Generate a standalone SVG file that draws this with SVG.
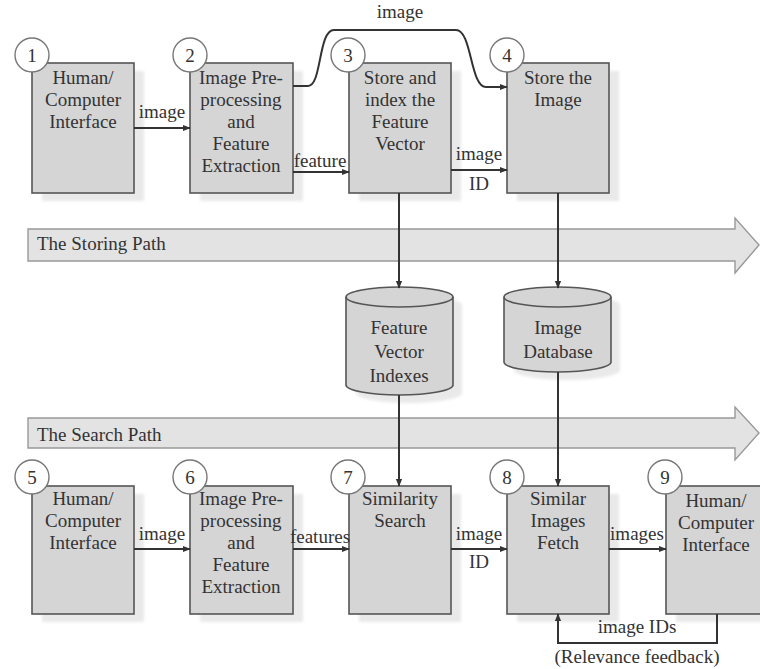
<svg xmlns="http://www.w3.org/2000/svg" width="760" height="669" viewBox="0 0 760 669" font-family="'Liberation Serif', 'Times New Roman', Times, 'DejaVu Serif', serif">
<style>
.box{fill:#d5d5d5;stroke:#555;stroke-width:1.6}
.sh{fill:#e9e9e9;filter:url(#blur)}
.num{fill:#fff;stroke:#777;stroke-width:1.4}
text{font-family:'Liberation Serif','Times New Roman',Times,'DejaVu Serif',serif;font-size:19px;fill:#333}
.t{text-anchor:middle}
.c{fill:none;stroke:#333;stroke-width:2}
.band{fill:#e3e3e3;stroke:#999;stroke-width:1.4}
</style>
<defs>
<filter id="blur" x="-10%" y="-10%" width="120%" height="120%"><feGaussianBlur stdDeviation="1.5"/></filter>
<marker id="ah" viewBox="0 0 10 10" refX="9" refY="5" markerWidth="4" markerHeight="4" orient="auto-start-reverse"><path d="M0,1 L10,5 L0,9 Z" fill="#333"/></marker>
</defs>
<rect width="760" height="669" fill="#fff"/>

<g id="storing-path">
<path class="band" d="M28,229 H735 V218 L759,245 L735,273 V261 H28 Z"/>
<text x="37" y="250">The Storing Path</text>
</g>
<g id="search-path">
<path class="band" d="M28,418 H735 V407 L759,433 L735,460 V448 H28 Z"/>
<text x="37" y="441">The Search Path</text>
</g>

<g id="node1">
<rect class="sh" x="42" y="71" width="102" height="130"/>
<rect class="box" x="32" y="63" width="102" height="130"/>
<circle class="num" cx="32" cy="55" r="17"/><text class="t" x="32" y="62">1</text>
<text class="t" x="83" y="84">Human/</text><text class="t" x="83" y="106">Computer</text><text class="t" x="83" y="128">Interface</text>
</g>
<g id="node2">
<rect class="sh" x="200" y="71" width="103" height="130"/>
<rect class="box" x="190" y="63" width="103" height="130"/>
<circle class="num" cx="190" cy="55" r="17"/><text class="t" x="190" y="62">2</text>
<text class="t" x="241" y="84">Image Pre-</text><text class="t" x="241" y="106">processing</text><text class="t" x="241" y="128">and</text><text class="t" x="241" y="150">Feature</text><text class="t" x="241" y="172">Extraction</text>
</g>
<g id="node3">
<rect class="sh" x="359" y="71" width="102" height="130"/>
<rect class="box" x="349" y="63" width="102" height="130"/>
<circle class="num" cx="348" cy="55" r="17"/><text class="t" x="348" y="62">3</text>
<text class="t" x="400" y="84">Store and</text><text class="t" x="400" y="106">index the</text><text class="t" x="400" y="128">Feature</text><text class="t" x="400" y="150">Vector</text>
</g>
<g id="node4">
<rect class="sh" x="517" y="71" width="102" height="130"/>
<rect class="box" x="507" y="63" width="102" height="130"/>
<circle class="num" cx="507" cy="55" r="17"/><text class="t" x="507" y="62">4</text>
<text class="t" x="558" y="84">Store the</text><text class="t" x="558" y="106">Image</text>
</g>

<g id="db-features">
<path class="sh" d="M356,305 A53,10 0 0 1 462,305 V393 A53,10 0 0 1 356,393 Z"/>
<path class="box" d="M346,297 A53.5,10 0 0 1 453,297 V385 A53.5,10 0 0 1 346,385 Z"/>
<path d="M346,297 A53.5,10 0 0 0 453,297" fill="none" stroke="#555" stroke-width="1.6"/>
<text class="t" x="399" y="334">Feature</text><text class="t" x="399" y="358">Vector</text><text class="t" x="399" y="382">Indexes</text>
</g>
<g id="db-images">
<path class="sh" d="M514,305 A53,10 0 0 1 620,305 V370 A53,10 0 0 1 514,370 Z"/>
<path class="box" d="M504,297 A53.5,10 0 0 1 611,297 V362 A53.5,10 0 0 1 504,362 Z"/>
<path d="M504,297 A53.5,10 0 0 0 611,297" fill="none" stroke="#555" stroke-width="1.6"/>
<text class="t" x="558" y="334">Image</text><text class="t" x="558" y="358">Database</text>
</g>

<g id="node5">
<rect class="sh" x="42" y="494" width="102" height="128"/>
<rect class="box" x="32" y="486" width="102" height="128"/>
<circle class="num" cx="32" cy="477" r="17"/><text class="t" x="32" y="484">5</text>
<text class="t" x="83" y="505">Human/</text><text class="t" x="83" y="527">Computer</text><text class="t" x="83" y="549">Interface</text>
</g>
<g id="node6">
<rect class="sh" x="200" y="494" width="103" height="128"/>
<rect class="box" x="190" y="486" width="103" height="128"/>
<circle class="num" cx="190" cy="477" r="17"/><text class="t" x="190" y="484">6</text>
<text class="t" x="241" y="505">Image Pre-</text><text class="t" x="241" y="527">processing</text><text class="t" x="241" y="549">and</text><text class="t" x="241" y="571">Feature</text><text class="t" x="241" y="593">Extraction</text>
</g>
<g id="node7">
<rect class="sh" x="359" y="494" width="102" height="128"/>
<rect class="box" x="349" y="486" width="102" height="128"/>
<circle class="num" cx="348" cy="477" r="17"/><text class="t" x="348" y="484">7</text>
<text class="t" x="400" y="505">Similarity</text><text class="t" x="400" y="527">Search</text>
</g>
<g id="node8">
<rect class="sh" x="517" y="494" width="102" height="128"/>
<rect class="box" x="507" y="486" width="102" height="128"/>
<circle class="num" cx="507" cy="477" r="17"/><text class="t" x="507" y="484">8</text>
<text class="t" x="558" y="505">Similar</text><text class="t" x="558" y="527">Images</text><text class="t" x="558" y="549">Fetch</text>
</g>
<g id="node9">
<rect class="sh" x="676" y="494" width="102" height="128"/>
<rect class="box" x="666" y="486" width="102" height="128"/>
<circle class="num" cx="665" cy="477" r="17"/><text class="t" x="665" y="484">9</text>
<text class="t" x="716" y="507">Human/</text><text class="t" x="716" y="529">Computer</text><text class="t" x="716" y="551">Interface</text>
</g>

<g id="connectors">
<path class="c" marker-end="url(#ah)" d="M134,128 H190"/>
<text class="t" x="162" y="118">image</text>
<path class="c" marker-end="url(#ah)" d="M293,172 H349"/>
<text class="t" x="320" y="167">feature</text>
<path class="c" marker-end="url(#ah)" d="M451,170 H507"/>
<text class="t" x="479" y="160">image</text><text class="t" x="479" y="190">ID</text>
<path class="c" marker-end="url(#ah)" d="M293,86 H308 C322,86 318,30 334,30 H456 C472,30 470,87 486,87 H507"/>
<text class="t" x="400" y="18">image</text>
<path class="c" marker-end="url(#ah)" d="M399,193 V288"/>
<path class="c" marker-end="url(#ah)" d="M558,193 V288"/>
<path class="c" marker-end="url(#ah)" d="M399,395 V486"/>
<path class="c" marker-end="url(#ah)" d="M558,372 V486"/>
<path class="c" marker-end="url(#ah)" d="M134,549 H190"/>
<text class="t" x="162" y="540">image</text>
<path class="c" marker-end="url(#ah)" d="M293,549 H349"/>
<text class="t" x="320" y="543">features</text>
<path class="c" marker-end="url(#ah)" d="M451,549 H507"/>
<text class="t" x="479" y="540">image</text><text class="t" x="479" y="568">ID</text>
<path class="c" marker-end="url(#ah)" d="M609,549 H666"/>
<text class="t" x="637" y="540">images</text>
<path class="c" marker-end="url(#ah)" d="M717,614 V643 H558 V614"/>
<text class="t" x="637" y="633">image IDs</text>
<text class="t" x="637" y="663">(Relevance feedback)</text>
</g>
</svg>
